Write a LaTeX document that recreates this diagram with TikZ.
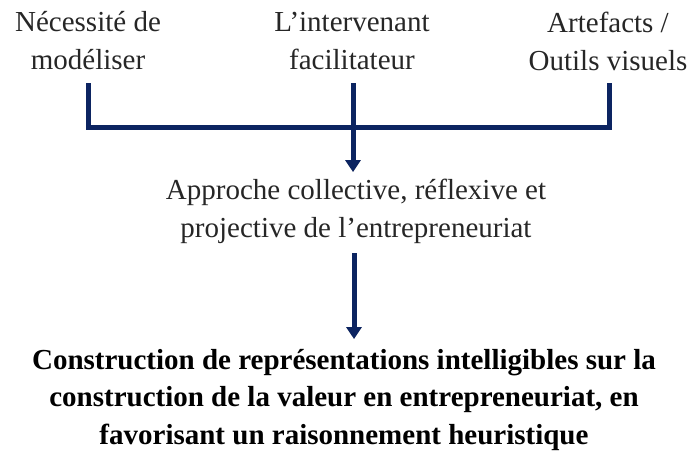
\documentclass[tikz,border=0pt]{standalone}
\usepackage{fontspec}
\setmainfont{Liberation Serif}
\usetikzlibrary{arrows.meta}
\definecolor{navy}{HTML}{0C2461}
\definecolor{shadowgray}{HTML}{C4C4C4}
\tikzset{
  lbl/.style={align=center, inner sep=0pt, font=\fontsize{29}{38}\selectfont, text=black!85},
  res/.style={align=center, inner sep=0pt, font=\bfseries\fontsize{29}{37.5}\selectfont},
  conn/.style={draw=navy, line width=5pt},
  shadowline/.style={draw=shadowgray, line width=5pt},
  tip/.style={-{Triangle[width=15pt,length=12pt]}}
}
\begin{document}
\begin{tikzpicture}[x=1pt,y=-1pt]
\useasboundingbox (0,0) rectangle (688,452);
\node[lbl] (n1) at (88,41) {Nécessité de\\modéliser};
\node[lbl] (n2) at (352,41) {L’intervenant\\facilitateur};
\node[lbl] (n3) at (608,41) {Artefacts /\\Outils visuels};
\node[lbl] (n4) at (356,211) {Approche collective, réflexive et\\projective de l’entrepreneuriat};
\node[res] (n5) at (344,400) {Construction de représentations intelligibles sur la\\construction de la valeur en entrepreneuriat, en\\favorisant un raisonnement heuristique};
\coordinate (bar) at (0,127);
\coordinate (t1) at (88,83);
\coordinate (t2) at (353,83);
\coordinate (t3) at (609,83);
\coordinate (a1) at (353,172);
\coordinate (b1) at (354,253);
\coordinate (b2) at (354,339);
% shadows
\begin{scope}[xshift=3pt,yshift=-3pt]
\path[shadowline] (t1) -- (t1 |- bar) -- (t3 |- bar) -- (t3);
\path[shadowline,tip] (t2) -- (a1);
\path[shadowline,tip] (b1) -- (b2);
\end{scope}
\path[conn, line join=miter] (t1) -- (t1 |- bar) -- (t3 |- bar) -- (t3);
\path[conn,tip] (t2) -- (a1);
\path[conn,tip] (b1) -- (b2);
\end{tikzpicture}
\end{document}
